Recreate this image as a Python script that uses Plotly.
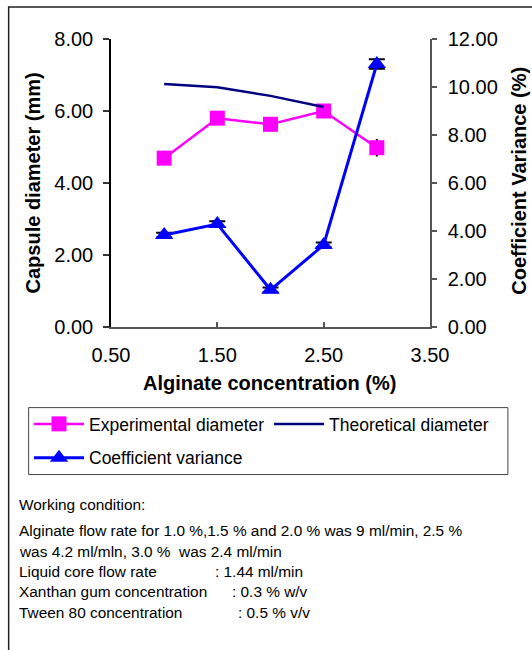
import plotly.graph_objects as go

# ---- data ----
conc = [1.0, 1.5, 2.0, 2.5, 3.0]
exp_diam = [4.69, 5.80, 5.63, 6.00, 4.98]
exp_err = [0.05, 0.05, 0.05, 0.05, 0.22]
theo_conc = [1.0, 1.5, 2.0, 2.5]
theo_diam = [6.75, 6.66, 6.42, 6.11]
cv = [3.83, 4.29, 1.55, 3.42, 10.96]
cv_err = [0.10, 0.12, 0.10, 0.10, 0.20]

notes = [
    "Working condition:",
    "Alginate flow rate for 1.0 %,1.5 % and 2.0 % was 9 ml/min, 2.5 %",
    "was 4.2 ml/mln, 3.0 %  was 2.4 ml/min",
    "Liquid core flow rate",
    "Xanthan gum concentration",
    "Tween 80 concentration",
]
note_vals = ["", "", "", ": 1.44 ml/min", ": 0.3 % w/v", ": 0.5 % v/v"]

# ---- layout geometry (pixels) ----
W, H = 532, 650
L, R, T, B = 110.5, 430, 39, 327.3

def px(x):
    return (x - L) / (R - L)

def py(y):
    return (B - y) / (B - T)

FONT = "Arial, Liberation Sans, sans-serif"

fig = go.Figure()
fig.add_trace(go.Scatter(
    x=conc, y=exp_diam, name="Experimental diameter", mode="lines+markers",
    line=dict(color="#FF00FF", width=2.5),
    marker=dict(symbol="square", size=15, color="#FF00FF"),
    error_y=dict(type="data", array=exp_err, color="black", thickness=1.5, width=1),
    legend="legend", legendgroup="a",
))
fig.add_trace(go.Scatter(
    x=theo_conc, y=theo_diam, name="Theoretical diameter", mode="lines",
    line=dict(color="#000080", width=2.5),
    legend="legend2", legendgroup="b",
))
fig.add_trace(go.Scatter(
    x=conc, y=cv, name="Coefficient variance", mode="lines+markers", yaxis="y2",
    line=dict(color="#0000FF", width=3),
    marker=dict(symbol="triangle-up", size=16, color="#0000FF"),
    error_y=dict(type="data", array=cv_err, color="black", thickness=2, width=8),
    legend="legend", legendgroup="c",
))

ann = []
ann.append(dict(text="<b>Capsule diameter (mm)</b>", x=px(32), y=py(183), xref="paper", yref="paper",
                xanchor="center", yanchor="middle",
                showarrow=False, textangle=-90, font=dict(size=20, color="black", family=FONT)))
ann.append(dict(text="<b>Coefficient Variance (%)</b>", x=px(519), y=py(181), xref="paper", yref="paper",
                xanchor="center", yanchor="middle",
                showarrow=False, textangle=-90, font=dict(size=20, color="black", family=FONT)))
ann.append(dict(text="<b>Alginate concentration (%)</b>", x=px(269), y=py(383), xref="paper", yref="paper",
                xanchor="center", yanchor="middle",
                showarrow=False, font=dict(size=20, color="black", family=FONT)))

line_y = [505, 531.5, 551.8, 572, 592.5, 613.3]
val_x = [0, 0, 0, 213, 230, 236]
for txt, val, yy, vx in zip(notes, note_vals, line_y, val_x):
    ann.append(dict(text=txt, x=px(16), y=py(yy), xref="paper", yref="paper", xanchor="left",
                    yanchor="middle", showarrow=False, font=dict(size=15.4, color="black", family=FONT)))
    if val:
        ann.append(dict(text=val, x=px(vx), y=py(yy), xref="paper", yref="paper", xanchor="left",
                        yanchor="middle", showarrow=False, font=dict(size=15.4, color="black", family=FONT)))

legend_common = dict(
    xanchor="left", yanchor="top", xref="container", yref="container",
    borderwidth=0, bgcolor="rgba(0,0,0,0)", itemwidth=50, tracegroupgap=8,
    font=dict(size=17.5, color="black", family=FONT),
)

fig.update_layout(
    width=W, height=H,
    margin=dict(l=L, r=W - R, t=T, b=H - B, pad=0, autoexpand=False),
    paper_bgcolor="white", plot_bgcolor="white",
    font=dict(family=FONT, color="black"),
    showlegend=True,
    legend=dict(orientation="v", x=29 / W, y=(H - 406) / H, **legend_common),
    legend2=dict(orientation="v", x=269 / W, y=(H - 406) / H, **legend_common),
    xaxis=dict(
        range=[0.5, 3.5], tick0=0.5, dtick=1, tickformat=".2f",
        showgrid=False, zeroline=False, showline=True, linecolor="#555", linewidth=1.5,
        ticks="inside", ticklen=5, tickcolor="#555", tickwidth=1.5,
        tickfont=dict(size=20, color="black"), ticklabelstandoff=9,
    ),
    yaxis=dict(
        range=[0, 8], dtick=2, tickformat=".2f",
        showgrid=False, zeroline=False, showline=True, linecolor="black", linewidth=1.5,
        ticks="outside", ticklen=6, tickcolor="#333", tickwidth=1.5,
        tickfont=dict(size=20, color="black"), ticklabelstandoff=6,
    ),
    yaxis2=dict(
        range=[0, 12], dtick=2, tickformat=".2f", overlaying="y", side="right",
        showgrid=False, zeroline=False, showline=True, linecolor="#555", linewidth=1.5,
        ticks="outside", ticklen=5, tickcolor="#555", tickwidth=1.5,
        tickfont=dict(size=20, color="black"), ticklabelstandoff=7,
    ),
    yaxis3=dict(
        range=[0, 12], dtick=2, overlaying="y", side="right",
        showgrid=False, zeroline=False, showline=False, showticklabels=False,
        ticks="inside", ticklen=5, tickcolor="#555", tickwidth=1.5,
    ),
    annotations=ann,
    shapes=[
        dict(type="rect", xref="paper", yref="paper",
             x0=px(8), x1=px(545), y0=py(700), y1=py(7),
             line=dict(color="#222", width=1.5), fillcolor="rgba(0,0,0,0)", layer="below"),
        dict(type="rect", xref="paper", yref="paper",
             x0=px(28), x1=px(508), y0=py(475), y1=py(408),
             line=dict(color="#444", width=1), fillcolor="rgba(0,0,0,0)", layer="below"),
    ],
)

fig.write_html("out.html")
